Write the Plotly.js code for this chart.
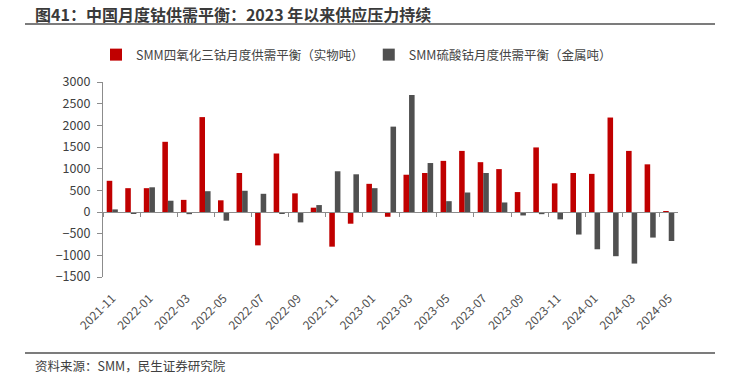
<!DOCTYPE html>
<html>
<head>
<meta charset="utf-8">
<script src="https://cdn.plot.ly/plotly-3.0.1.min.js"></script>
<style>html,body{margin:0;padding:0;background:#fff;}#chart{width:741px;height:391px;}</style>
</head>
<body>
<div id="chart"></div>
<script>
const months = ["2021-11","2021-12","2022-01","2022-02","2022-03","2022-04","2022-05","2022-06","2022-07","2022-08","2022-09","2022-10","2022-11","2022-12","2023-01","2023-02","2023-03","2023-04","2023-05","2023-06","2023-07","2023-08","2023-09","2023-10","2023-11","2023-12","2024-01","2024-02","2024-03","2024-04","2024-05"];
const co3o4Balance = [720,550,550,1620,280,2190,270,900,-770,1350,430,100,-800,-270,650,-110,860,900,1180,1410,1150,990,460,1490,660,900,880,2180,1410,1100,15];
const cobaltSulfateBalance = [60,-30,570,260,-50,480,-200,490,420,-30,-240,160,940,870,550,1970,2700,1130,250,450,900,220,-80,-50,-170,-520,-860,-1020,-1190,-590,-670];
const seriesNames = ["SMM四氧化三钴月度供需平衡（实物吨）","SMM硫酸钴月度供需平衡（金属吨）"];
const tickLabels = months.filter((m, i) => i % 2 === 0);
const titleText = "图41：中国月度钴供需平衡：2023 年以来供应压力持续";
const sourceText = "资料来源：SMM，民生证券研究院";

const FONT = "'Noto Sans CJK SC', 'Microsoft YaHei', sans-serif";
const L = 103, R = 63, T = 82, B = 114;
const W = 741, H = 391;
const pw = W - L - R, ph = H - T - B;
const px2x = p => (p - L) / pw;
const py2y = p => (H - B - p) / ph;

const traces = [
  {type: "bar", name: seriesNames[0], x: months, y: co3o4Balance, marker: {color: "#C00000"}, hoverinfo: "x+y"},
  {type: "bar", name: seriesNames[1], x: months, y: cobaltSulfateBalance, marker: {color: "#505050"}, hoverinfo: "x+y"},
  {type: "scatter", x: [], y: [], xaxis: "x2", yaxis: "y", showlegend: false, hoverinfo: "skip"}
];

const layout = {
  width: W, height: H,
  margin: {l: L, r: R, t: T, b: B, pad: 0},
  paper_bgcolor: "#ffffff", plot_bgcolor: "#ffffff",
  font: {family: FONT, size: 12, color: "#404040"},
  title: {text: "<b>" + titleText + "</b>", font: {family: FONT, size: 16, color: "#3a3a3a"},
          xref: "container", yref: "container", x: 35 / W, xanchor: "left", y: 1 - 15 / H, yanchor: "middle"},
  barmode: "group", bargap: 0.4, bargroupgap: 0,
  showlegend: true,
  legend: {orientation: "h", x: px2x(96), xanchor: "left", y: py2y(55), yanchor: "middle",
           font: {family: FONT, size: 12.5, color: "#454545"}, bgcolor: "rgba(0,0,0,0)", traceorder: "normal"},
  xaxis: {type: "category", showline: false, ticks: "", showgrid: false, zeroline: false,
          tickmode: "array", tickvals: tickLabels, ticktext: tickLabels, tickangle: -45,
          ticklabelstandoff: 11, tickfont: {family: FONT, size: 12, color: "#505050"}},
  xaxis2: {type: "linear", overlaying: "x", anchor: "free", position: 1/3, range: [-0.5, 30.5],
           showline: true, linecolor: "#8c8c8c", linewidth: 1.3, ticks: "outside", ticklen: 4, tickwidth: 1.3,
           tickcolor: "#8c8c8c", tick0: -0.5, dtick: 2, showticklabels: false, showgrid: false, zeroline: false, side: "bottom"},
  yaxis: {range: [-1500, 3000], dtick: 500, tick0: 0, showline: true, linecolor: "#8c8c8c", linewidth: 1.3,
          ticks: "outside", ticklen: 5, tickwidth: 1.3, tickcolor: "#8c8c8c", showgrid: false, zeroline: false,
          ticklabelstandoff: 4, tickfont: {family: FONT, size: 12.5, color: "#404040"}},
  shapes: [
    {type: "line", xref: "paper", yref: "paper", x0: px2x(25), x1: px2x(715), y0: py2y(24), y1: py2y(24), line: {color: "#505050", width: 1.5}},
    {type: "line", xref: "paper", yref: "paper", x0: px2x(25), x1: px2x(715), y0: py2y(353), y1: py2y(353), line: {color: "#505050", width: 1.5}}
  ],
  annotations: [
    {text: sourceText, xref: "paper", yref: "paper", x: px2x(33), y: py2y(365), xanchor: "left", yanchor: "middle",
     showarrow: false, font: {family: FONT, size: 12.5, color: "#404040"}}
  ]
};

Plotly.newPlot("chart", traces, layout, {displayModeBar: false, responsive: false});
</script>
</body>
</html>
